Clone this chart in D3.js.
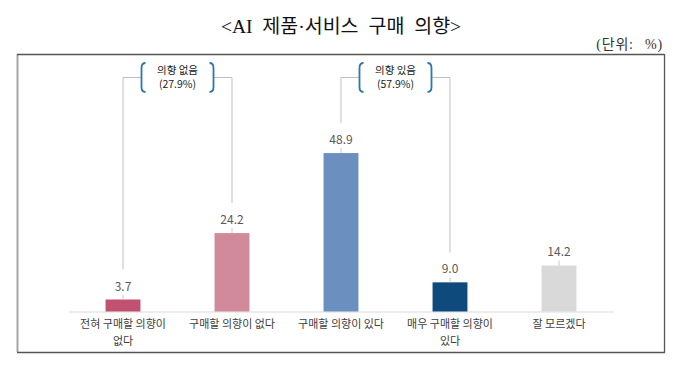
<!DOCTYPE html>
<html><head><meta charset="utf-8">
<script src="https://cdn.jsdelivr.net/npm/d3@7/dist/d3.min.js"></script>
<style>
html,body{margin:0;padding:0;background:#fff;}
svg{display:block;}
text{font-family:"Noto Sans CJK KR","Noto Sans",sans-serif;}
</style></head>
<body><svg id="chart" width="680" height="365"></svg>
<script>
const categories = ["전혀 구매할 의향이\n없다", "구매할 의향이 없다", "구매할 의향이 있다", "매우 구매할 의향이\n있다", "잘 모르겠다"];
const values = [3.7, 24.2, 48.9, 9.0, 14.2];
const barColors = ["#c0516f", "#d18a9c", "#6b8fbf", "#0f4a7c", "#d9d9d9"];
const groupLabels = ["의향 없음", "의향 있음"];
const groupShares = ["(27.9%)", "(57.9%)"];
const groupMembers = [[0, 1], [2, 3]];
const titleText = "<AI 제품·서비스 구매 의향>";
const unitText = "(단위: %)";

const svg = d3.select("#chart");

// title & unit
svg.append("text").attr("x", 341).attr("y", 33).attr("text-anchor", "middle")
  .style("font-family", "'Liberation Serif','Noto Sans CJK KR',serif")
  .style("font-size", "19.5px").style("word-spacing", "5px").attr("fill", "#111")
  .text(titleText);
svg.append("text").attr("x", 663).attr("y", 49).attr("text-anchor", "end")
  .style("font-family", "'Liberation Serif','Noto Sans CJK KR',serif")
  .style("font-size", "14px").style("letter-spacing", "0.8px").style("word-spacing", "7px").attr("fill", "#333")
  .text(unitText);

// frame
svg.append("line").attr("x1", 17.5).attr("x2", 17.5).attr("y1", 54).attr("y2", 352).attr("stroke", "#a6a6a6").attr("stroke-width", 2);
svg.append("line").attr("x1", 17).attr("x2", 664.5).attr("y1", 54.5).attr("y2", 54.5).attr("stroke", "#555").attr("stroke-width", 1.3);
svg.append("line").attr("x1", 664.5).attr("x2", 664.5).attr("y1", 54).attr("y2", 352.5).attr("stroke", "#555").attr("stroke-width", 1.3);
svg.append("line").attr("x1", 17).attr("x2", 665).attr("y1", 352.5).attr("y2", 352.5).attr("stroke", "#555").attr("stroke-width", 1.3);

const x = d3.scaleBand().domain(d3.range(categories.length)).range([68.5, 613.5]).paddingInner(0.68).paddingOuter(0.34);
const y = d3.scaleLinear().domain([0, 50]).range([311.5, 149.5]);
const cx = i => x(i) + x.bandwidth() / 2;

// axis
const axis = svg.append("g").attr("transform", `translate(0,${y(0)})`)
  .call(d3.axisBottom(x).tickSize(0).tickSizeOuter(0).tickFormat(""));
axis.select(".domain").attr("stroke", "#d9d9d9");
axis.selectAll(".tick").each(function(d) {
  const t = d3.select(this).append("text").attr("fill", "#404040")
    .attr("text-anchor", "middle").style("font-size", "11px");
  categories[d].split("\n").forEach((ln, k) => {
    t.append("tspan").attr("x", 0).attr("y", 16 + k * 17).text(ln);
  });
});

// group brackets
const topY = 77.5;
groupMembers.forEach((m, g) => {
  const a = cx(m[0]), b = cx(m[1]);
  const mid = (a + b) / 2;
  const bl = mid - 36, br = mid + 36;
  const gg = svg.append("g");
  gg.append("line").attr("x1", a).attr("x2", bl).attr("y1", topY).attr("y2", topY).attr("stroke", "#bfbfbf");
  gg.append("line").attr("x1", br).attr("x2", b).attr("y1", topY).attr("y2", topY).attr("stroke", "#bfbfbf");
  m.forEach(i => {
    gg.append("line").attr("x1", cx(i)).attr("x2", cx(i)).attr("y1", topY).attr("y2", y(values[i]) - 30)
      .attr("stroke", "#bfbfbf");
  });
  const t0 = 63, t1 = 92;
  gg.append("path").attr("d", `M${bl + 4},${t0} Q${bl},${t0} ${bl},${t0 + 5} L${bl},${t1 - 5} Q${bl},${t1} ${bl + 4},${t1}`)
    .attr("fill", "none").attr("stroke", "#2e75b6").attr("stroke-width", 1.8);
  gg.append("path").attr("d", `M${br - 4},${t0} Q${br},${t0} ${br},${t0 + 5} L${br},${t1 - 5} Q${br},${t1} ${br - 4},${t1}`)
    .attr("fill", "none").attr("stroke", "#2e75b6").attr("stroke-width", 1.8);
  gg.append("text").attr("x", mid).attr("y", 74).attr("text-anchor", "middle").style("font-size", "10.5px").attr("fill", "#222").text(groupLabels[g]);
  gg.append("text").attr("x", mid).attr("y", 88).attr("text-anchor", "middle").style("font-size", "10.5px").attr("fill", "#222").text(groupShares[g]);
});

// bars
svg.selectAll("rect.bar").data(values).enter().append("rect").attr("class", "bar")
  .attr("x", (d, i) => x(i)).attr("width", x.bandwidth())
  .attr("y", d => y(d)).attr("height", d => y(0) - y(d))
  .attr("fill", (d, i) => barColors[i]);

// leader ticks and value labels
svg.selectAll("line.lead").data(values).enter().append("line").attr("class", "lead")
  .attr("x1", (d, i) => cx(i)).attr("x2", (d, i) => cx(i))
  .attr("y1", d => y(d) - 5).attr("y2", d => y(d)).attr("stroke", "#c8c8c8");
svg.selectAll("text.val").data(values).enter().append("text").attr("class", "val")
  .attr("x", (d, i) => cx(i)).attr("y", d => y(d) - 9).attr("text-anchor", "middle")
  .style("font-size", "12px").attr("fill", "#595959")
  .text(d => d3.format(".1f")(d));
</script></body></html>
